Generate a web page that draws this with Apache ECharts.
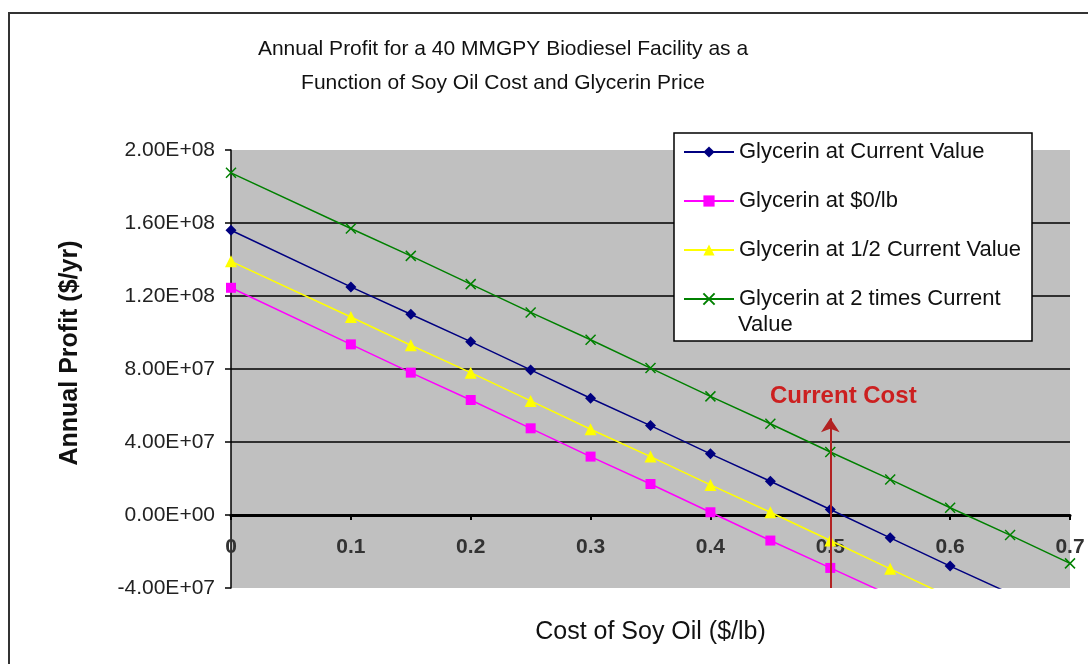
<!DOCTYPE html>
<html>
<head>
<meta charset="utf-8">
<script src="https://cdn.jsdelivr.net/npm/echarts@6/dist/echarts.min.js"></script>
<style>
html,body{margin:0;padding:0;background:#fff;}
#c{width:1088px;height:664px;}
</style>
</head>
<body>
<div id="c"></div>
<script>
// ---- data ----
const titleLines = ['Annual Profit for a 40 MMGPY Biodiesel Facility as a', 'Function of Soy Oil Cost and Glycerin Price'];
const xAxisTitle = 'Cost of Soy Oil ($/lb)';
const yAxisTitle = 'Annual Profit ($/yr)';
const seriesNames = ['Glycerin at Current Value', 'Glycerin at $0/lb', 'Glycerin at 1/2 Current Value', 'Glycerin at 2 times Current Value'];
const legendLastLines = ['Glycerin at 2 times Current', 'Value'];
const soyCost = [0, 0.1, 0.15, 0.2, 0.25, 0.3, 0.35, 0.4, 0.45, 0.5, 0.55, 0.6, 0.65, 0.7];
const profitCurrent = [1.56e8, 1.25e8, 1.10e8, 9.5e7, 7.95e7, 6.4e7, 4.9e7, 3.35e7, 1.85e7, 3.0e6, -1.25e7, -2.8e7, -4.3e7, -5.8e7];
const profitZero    = [1.245e8, 9.35e7, 7.8e7, 6.3e7, 4.75e7, 3.2e7, 1.7e7, 1.5e6, -1.4e7, -2.9e7, -4.4e7];
const profitHalf    = [1.39e8, 1.085e8, 9.3e7, 7.8e7, 6.25e7, 4.7e7, 3.2e7, 1.65e7, 1.5e6, -1.4e7, -2.95e7, -4.5e7];
const profitDouble  = [1.875e8, 1.57e8, 1.42e8, 1.265e8, 1.11e8, 9.6e7, 8.05e7, 6.5e7, 5.0e7, 3.45e7, 1.95e7, 4.0e6, -1.1e7, -2.65e7];
const xTicks = [0, 0.7, 0.1];          // min, max, interval
const yTicks = [-4e7, 2e8, 4e7];       // min, max, interval
const currentCost = 0.5;
const arrowRange = [-4e7, 5.3e7];
const annotationText = 'Current Cost';
const annotationY = 6.5e7;

// ---- helpers ----
const FONT = "'Liberation Sans', Arial, sans-serif";
function sci(v) {
  if (v === 0) return '0.00E+00';
  const parts = Math.abs(v).toExponential(2).split('e');
  let e = parts[1];
  const sign = e[0] === '-' ? '-' : '+';
  e = e.replace(/[+-]/, '');
  if (e.length < 2) e = '0' + e;
  return (v < 0 ? '-' : '') + parts[0] + 'E' + sign + e;
}
function pairs(ys) { return ys.map((y, i) => [soyCost[i], y]); }

const colors = ['#000080', '#ff00ff', '#ffff00', '#008000'];
const symbols = ['diamond', 'rect', 'triangle', 'path://M0,0L10,10M10,0L0,10'];
const sizes = [11, 10, 12, 10];
const dataSets = [profitCurrent, profitZero, profitHalf, profitDouble];

const legendLeft = 683, legendItemW = 50;
const gridBottom = 76;

const series = dataSets.map((d, i) => {
  const s = {
    name: seriesNames[i],
    type: 'line',
    data: pairs(d),
    symbol: symbols[i],
    symbolSize: sizes[i],
    showAllSymbol: true,
    clip: true,
    animation: false,
    lineStyle: { color: colors[i], width: 1.5 },
    itemStyle: { color: colors[i], borderColor: colors[i], borderWidth: i === 3 ? 1.5 : 0 },
    emphasis: { disabled: true },
    z: 3
  };
  if (i === 3) {
    s.itemStyle.color = 'rgba(0,0,0,0)';
  }
  return s;
});

series[0].markLine = {
  silent: true,
  animation: false,
  symbol: ['none', 'arrow'],
  symbolSize: 14,
  label: { show: false },
  lineStyle: { color: '#b22222', width: 2, type: 'solid' },
  data: [[{ coord: [currentCost, arrowRange[0]] }, { coord: [currentCost, arrowRange[1]] }]]
};
series[0].markPoint = {
  silent: true,
  animation: false,
  symbol: 'circle',
  symbolSize: 1,
  itemStyle: { color: 'rgba(0,0,0,0)' },
  label: {
    show: true, position: 'inside', formatter: annotationText, offset: [13, 0],
    color: '#cc2020', fontWeight: 'bold', fontSize: 24, fontFamily: FONT
  },
  data: [{ coord: [currentCost, annotationY] }]
};

const chart = echarts.init(document.getElementById('c'), null, { renderer: 'canvas' });
chart.setOption({
  animation: false,
  backgroundColor: '#ffffff',
  title: {
    text: titleLines.join('\n'),
    left: 503, top: 32, padding: 0,
    textAlign: 'center',
    textStyle: { fontFamily: FONT, fontSize: 21, fontWeight: 'normal', color: '#111', lineHeight: 34 }
  },
  grid: {
    left: 231, right: 18, top: 150, bottom: gridBottom,
    containLabel: false, outerBoundsMode: 'none',
    show: true, backgroundColor: '#c0c0c0', borderWidth: 0
  },
  legend: {
    orient: 'vertical',
    left: legendLeft, top: 140, padding: 0,
    itemWidth: legendItemW, itemHeight: 14, itemGap: 25,
    selectedMode: false,
    z: 20,
    data: seriesNames,
    formatter: n => n === seriesNames[3] ? legendLastLines[0] : n,
    textStyle: { fontFamily: FONT, fontSize: 22, color: '#111', lineHeight: 24 }
  },
  xAxis: {
    type: 'value',
    min: xTicks[0], max: xTicks[1], interval: xTicks[2],
    name: xAxisTitle, nameLocation: 'middle', nameGap: 105,
    nameTextStyle: { fontFamily: FONT, fontSize: 25, color: '#111' },
    axisLine: { show: true, onZero: false, lineStyle: { color: '#000', width: 3 } },
    axisTick: { show: true, length: 5, lineStyle: { color: '#000', width: 2 } },
    axisLabel: {
      margin: 22, fontFamily: FONT, fontSize: 21, fontWeight: 'bold', color: '#333',
      formatter: v => String(+v.toFixed(1))
    },
    splitLine: { show: false }
  },
  yAxis: {
    type: 'value',
    min: yTicks[0], max: yTicks[1], interval: yTicks[2],
    name: yAxisTitle, nameLocation: 'middle', nameGap: 148,
    nameTextStyle: { fontFamily: FONT, fontSize: 25, fontWeight: 'bold', color: '#111', padding: [0, 0, 0, 32] },
    axisLine: { show: true, onZero: false, lineStyle: { color: '#000', width: 1.5 } },
    axisTick: { show: true, length: 6, lineStyle: { color: '#000', width: 1.5 } },
    axisLabel: { margin: 16, fontFamily: FONT, fontSize: 21, color: '#222', formatter: sci },
    splitLine: { show: true, showMinLine: false, showMaxLine: false, lineStyle: { color: '#000', width: 1.5 } }
  },
  graphic: [
    { type: 'rect', z: 0, silent: true, shape: { x: 9, y: 13, width: 1300, height: 900 },
      style: { fill: 'none', stroke: '#333', lineWidth: 2 } },
    { type: 'rect', z: 15, silent: true, shape: { x: 674, y: 133, width: 358, height: 208 },
      style: { fill: '#fff', stroke: '#000', lineWidth: 1.5 } },
    { type: 'text', z: 21, silent: true, x: legendLeft + legendItemW + 5, y: 325,
      style: { text: legendLastLines[1], font: '22px ' + FONT, fill: '#111', verticalAlign: 'middle', textVerticalAlign: 'middle' } }
  ],
  series: series
});
// Move the x axis (line, ticks, labels, name) up to the y = 0 line using the library's own scale
const zeroY = chart.convertToPixel({ yAxisIndex: 0 }, 0);
const bottomY = chart.getHeight() - gridBottom;
chart.setOption({ xAxis: { offset: zeroY - bottomY } });
</script>
</body>
</html>
